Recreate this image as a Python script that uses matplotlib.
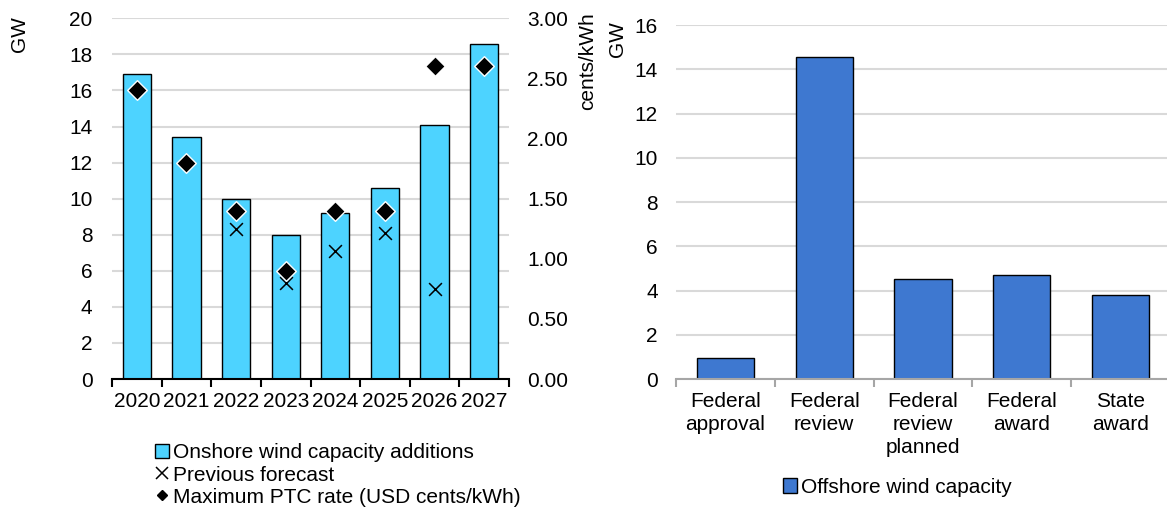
import matplotlib
matplotlib.use('Agg')
import matplotlib.pyplot as plt
import numpy as np
from matplotlib.lines import Line2D
from matplotlib.patches import Patch

plt.rcParams['font.family'] = ['Liberation Sans', 'DejaVu Sans']
plt.rcParams['font.size'] = 15

years = ['2020', '2021', '2022', '2023', '2024', '2025', '2026', '2027']
onshore = [16.9, 13.4, 10.0, 8.0, 9.2, 10.6, 14.1, 18.6]
prev_forecast = [np.nan, np.nan, 8.3, 5.3, 7.1, 8.1, 5.0, np.nan]
ptc_rate = [2.4, 1.8, 1.4, 0.9, 1.4, 1.4, 2.6, 2.6]

stages = ['Federal\napproval', 'Federal\nreview', 'Federal\nreview\nplanned', 'Federal\naward', 'State\naward']
offshore = [0.95, 14.55, 4.5, 4.7, 3.8]

onshore_col = '#4DD3FF'
offshore_col = '#3E78D0'
grid_col = '#D9D9D9'

W, H = 1167, 511
fig = plt.figure(figsize=(W / 100, H / 100), dpi=100)

# left panel: onshore
ax1 = fig.add_axes([112 / W, 1 - 379 / H, 397 / W, (379 - 18.3) / H])
x = np.arange(len(years))
ax1.bar(x, onshore, width=0.57, color=onshore_col, edgecolor='black', linewidth=1, zorder=2)
ax1.scatter(x, prev_forecast, marker='x', s=85, color='black', linewidths=1.1, zorder=3)
ax1.set_ylim(0, 20)
ax1.set_yticks(range(0, 21, 2))
ax1.set_xlim(-0.5, len(years) - 0.5)
ax1.set_xticks(x)
ax1.set_xticklabels(years)
ax1.set_xticks(np.arange(-0.5, len(years), 1), minor=True)
ax1.tick_params(axis='x', which='major', length=0, pad=9)
ax1.tick_params(axis='x', which='minor', length=6, width=1.5, direction='out')
ax1.tick_params(axis='y', length=0, pad=14)
ax1.grid(axis='y', color=grid_col, linewidth=1.5, zorder=0)
ax1.set_axisbelow(True)
for s in ['top', 'right', 'left']:
    ax1.spines[s].set_visible(False)
ax1.spines['bottom'].set_linewidth(1.5)
fig.text(20 / W, 1 - 16 / H, 'GW', rotation=90, ha='center', va='top')

ax1b = ax1.twinx()
ax1b.scatter(x, ptc_rate, marker='D', s=100, color='black', edgecolors='white', linewidths=1, zorder=4)
ax1b.set_ylim(0, 3)
ax1b.set_yticks(np.arange(0, 3.01, 0.5))
ax1b.set_yticklabels([f'{v:.2f}' for v in np.arange(0, 3.01, 0.5)])
ax1b.tick_params(axis='y', length=0, pad=13)
for s in ['top', 'right', 'left', 'bottom']:
    ax1b.spines[s].set_visible(False)
fig.text(588 / W, 1 - 12 / H, 'cents/kWh', rotation=90, ha='center', va='top')

handles1 = [
    Patch(facecolor=onshore_col, edgecolor='black', linewidth=1),
    Line2D([], [], marker='x', color='black', linestyle='none', markersize=9, markeredgewidth=1.1),
    Line2D([], [], marker='D', color='black', linestyle='none', markersize=5),
]
fig.legend(handles1, ['Onshore wind capacity additions', 'Previous forecast',
                      'Maximum PTC rate (USD cents/kWh)'],
           loc='center left', bbox_to_anchor=(155 / W, 1 - 475 / H), frameon=False,
           handlelength=0.65, handletextpad=0.2, labelspacing=0.15, borderpad=0,
           borderaxespad=0)

# right panel: offshore
ax2 = fig.add_axes([676 / W, 1 - 379 / H, 494 / W, (379 - 25) / H])
x2 = np.arange(len(stages))
ax2.bar(x2, offshore, width=0.58, color=offshore_col, edgecolor='black', linewidth=1, zorder=2)
ax2.set_ylim(0, 16)
ax2.set_yticks(range(0, 17, 2))
ax2.set_xlim(-0.5, len(stages) - 0.5)
ax2.set_xticks(x2)
ax2.set_xticklabels(stages, linespacing=1.28)
ax2.set_xticks(np.arange(-0.5, len(stages), 1), minor=True)
ax2.tick_params(axis='x', which='major', length=0, pad=9)
ax2.tick_params(axis='x', which='minor', length=6, width=1.5, direction='out', color='#A6A6A6')
ax2.tick_params(axis='y', length=0, pad=13)
ax2.grid(axis='y', color=grid_col, linewidth=1.5, zorder=0)
ax2.set_axisbelow(True)
for s in ['top', 'right', 'left']:
    ax2.spines[s].set_visible(False)
ax2.spines['bottom'].set_linewidth(1.5)
ax2.spines['bottom'].set_color('#A6A6A6')
fig.text(618 / W, 1 - 21 / H, 'GW', rotation=90, ha='center', va='top')

fig.legend([Patch(facecolor=offshore_col, edgecolor='black', linewidth=1)],
           ['Offshore wind capacity'], loc='center left',
           bbox_to_anchor=(783 / W, 1 - 487 / H), frameon=False,
           handlelength=0.65, handletextpad=0.2, borderpad=0, borderaxespad=0)

fig.savefig('out.png', dpi=100)
